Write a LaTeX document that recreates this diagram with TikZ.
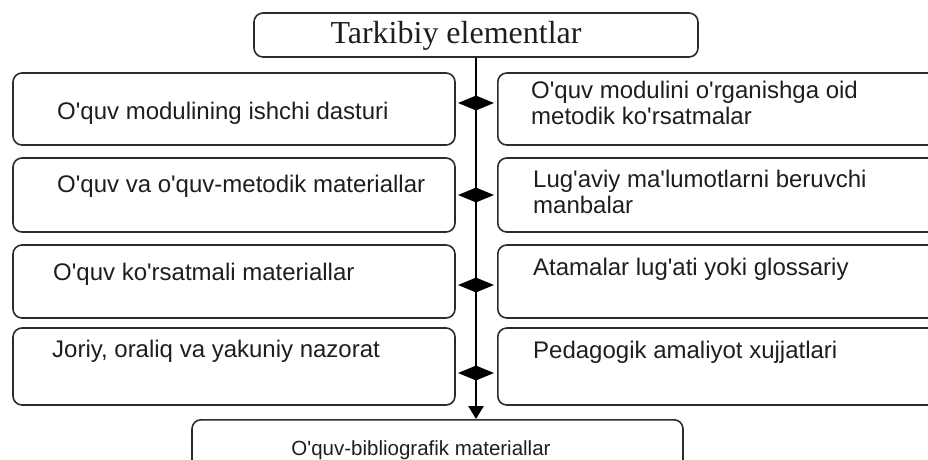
\documentclass[tikz,border=0pt]{standalone}
\usepackage{fontspec}
\setmainfont{Liberation Serif}
\newfontfamily\boxfont{Liberation Sans}
\usepackage{tikz}
\usetikzlibrary{shapes.geometric, arrows.meta, positioning}
\definecolor{frame}{HTML}{2B2B2B}
\definecolor{ink}{HTML}{1E1E1E}
\tikzset{
  box/.style={draw=frame, line width=1.6pt, rounded corners=9pt, inner sep=0pt},
  lab/.style={font=\boxfont\fontsize{24}{26}\selectfont, text=ink, inner sep=0pt, align=left},
  knot/.style={diamond, fill=black, inner sep=0pt, minimum width=36pt, minimum height=15pt},
  spine/.style={line width=2.6pt, -{Triangle[width=15pt,length=13pt]}}
}

\begin{document}
\begin{tikzpicture}[x=1pt, y=-1pt]
  \clip (0,0) rectangle (928,459);
  \node[box, minimum width=444pt, minimum height=44pt] (top) at (476,35) {};
  \node[font=\fontsize{32}{34}\selectfont, text=ink, inner sep=0pt, anchor=base] (title) at (456,43) {Tarkibiy elementlar};
  \node[box, minimum width=491pt, minimum height=56pt, anchor=north] (bot) at (437.5,419) {};
  \node[lab, font=\boxfont\fontsize{20.5}{24}\selectfont, anchor=base] (bt) at (421,455) {O'quv-bibliografik materiallar};
  \foreach \i/\yc/\h in {1/109/72, 2/195/74, 3/281.5/73, 4/366.5/77} {
    \node[box, minimum width=442pt, minimum height=\h] (lb\i) at (234,\yc) {};
    \node[box, minimum width=460pt, minimum height=\h, anchor=west] (rb\i) at (497,\yc) {};
  }
  \draw[spine] (top.south) -- (top.south |- bot.north);
  \foreach \i/\y in {1/103, 2/195, 3/285, 4/373}
    \node[knot] (dm\i) at (476,\y) {};
  \node[lab, anchor=base west] (lt1) at (57,119) {O'quv modulining ishchi dasturi};
  \node[lab, anchor=base west] (lt2) at (57,192) {O'quv va o'quv-metodik materiallar};
  \node[lab, anchor=base west] (lt3) at (53,280) {O'quv ko'rsatmali materiallar};
  \node[lab, anchor=base west] (lt4) at (52,357) {Joriy, oraliq va yakuniy nazorat};
  \node[lab, anchor=west] (rt1) at (531,103) {O'quv modulini o'rganishga oid\\metodik ko'rsatmalar};
  \node[lab, anchor=west] (rt2) at (533,192) {Lug'aviy ma'lumotlarni beruvchi\\manbalar};
  \node[lab, anchor=base west] (rt3) at (533,275) {Atamalar lug'ati yoki glossariy};
  \node[lab, anchor=base west] (rt4) at (533,358) {Pedagogik amaliyot xujjatlari};
\end{tikzpicture}
\end{document}
